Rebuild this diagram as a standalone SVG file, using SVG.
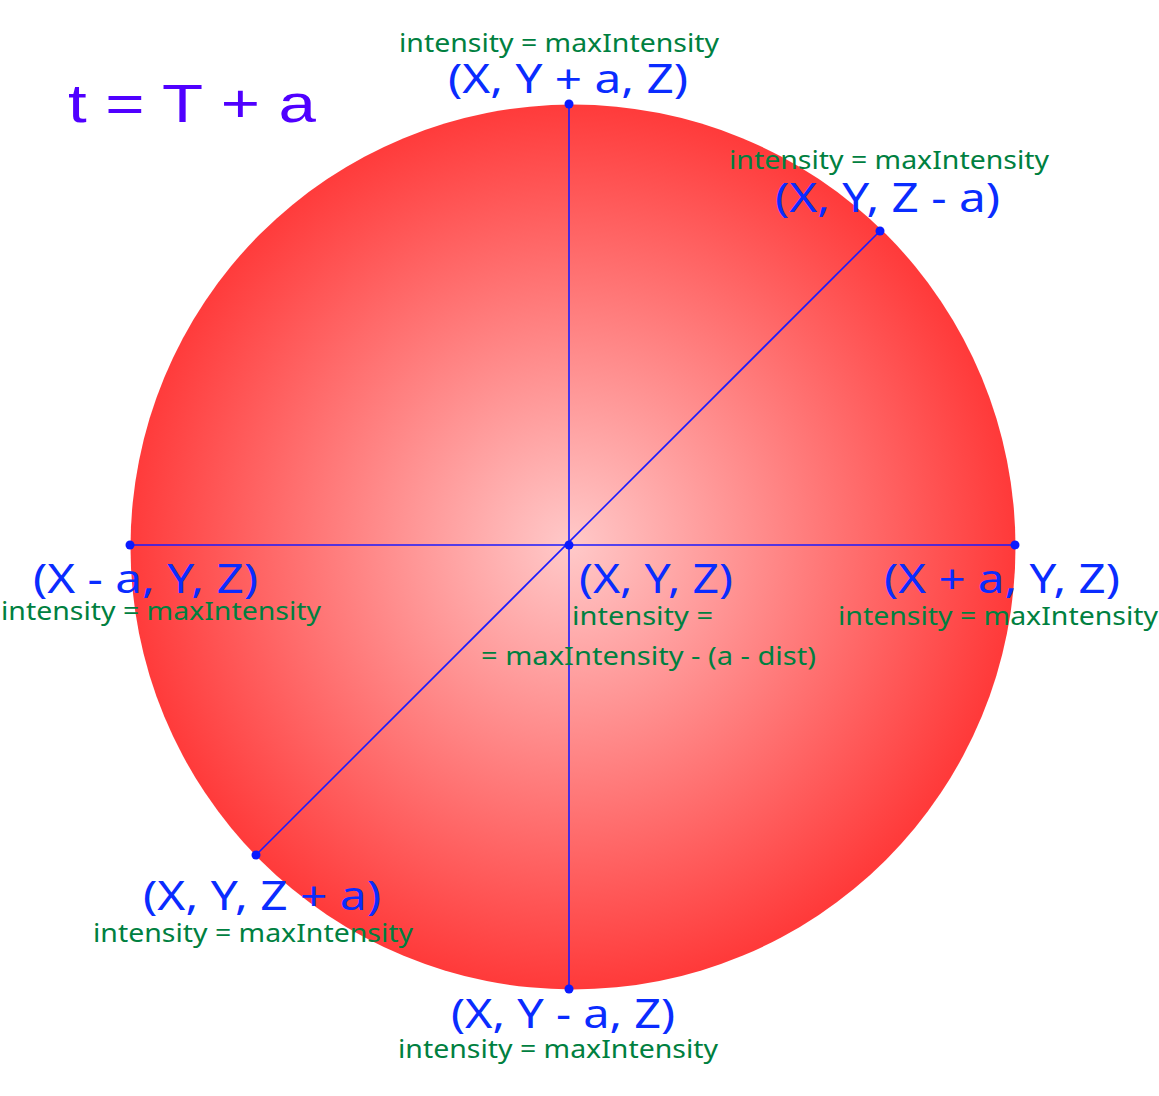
<svg xmlns="http://www.w3.org/2000/svg" width="1159" height="1096" viewBox="0 0 1159 1096">
<defs>
<radialGradient id="g" cx="570" cy="545" r="443" gradientUnits="userSpaceOnUse">
<stop offset="0" stop-color="#ffc9c9"/>
<stop offset="1" stop-color="#ff3a3a"/>
</radialGradient>
<style>
.b{font-family:"Noto Sans","Open Sans","Liberation Sans",sans-serif;font-size:40px;fill:#0a2cff}
.g{font-family:"Noto Sans","Open Sans","Liberation Sans",sans-serif;font-size:25px;fill:#008040}
.t{font-family:"Liberation Sans","Noto Sans",sans-serif;font-size:54px;fill:#5000ff}
.l{stroke:#1a1aff;stroke-width:1.6;fill:none}
.d{fill:#0a1aff}
</style>
</defs>
<rect width="1159" height="1096" fill="#ffffff"/>
<g id="sphere"><circle cx="573" cy="547" r="442.5" fill="url(#g)"/></g>
<g id="connectors">
<line class="l" x1="569" y1="104" x2="569" y2="989"/>
<line class="l" x1="130" y1="545" x2="1015" y2="545"/>
<line class="l" x1="880" y1="231" x2="256" y2="855"/>
</g>
<g id="title"><text class="t" x="68" y="122" textLength="248" lengthAdjust="spacingAndGlyphs">t = T + a</text></g>
<g id="node-top">
<circle class="d" cx="569" cy="104" r="4.5"/>
<text class="g" x="399" y="52" textLength="320" lengthAdjust="spacingAndGlyphs">intensity = maxIntensity</text>
<text class="b" x="448" y="93" textLength="240" lengthAdjust="spacingAndGlyphs">(X, Y + a, Z)</text>
</g>
<g id="node-upper-right">
<circle class="d" cx="880" cy="231" r="4.5"/>
<text class="g" x="729" y="169" textLength="320" lengthAdjust="spacingAndGlyphs">intensity = maxIntensity</text>
<text class="b" x="775" y="212" textLength="225" lengthAdjust="spacingAndGlyphs">(X, Y, Z - a)</text>
</g>
<g id="node-left">
<circle class="d" cx="130" cy="545" r="4.5"/>
<text class="b" x="33" y="593" textLength="225" lengthAdjust="spacingAndGlyphs">(X - a, Y, Z)</text>
<text class="g" x="1" y="620" textLength="320" lengthAdjust="spacingAndGlyphs">intensity = maxIntensity</text>
</g>
<g id="node-center">
<circle class="d" cx="569" cy="545" r="4.5"/>
<text class="b" x="579" y="593" textLength="154" lengthAdjust="spacingAndGlyphs">(X, Y, Z)</text>
<text class="g" x="572" y="625" textLength="141" lengthAdjust="spacingAndGlyphs">intensity =</text>
<text class="g" x="481" y="665" textLength="335" lengthAdjust="spacingAndGlyphs">= maxIntensity - (a - dist)</text>
</g>
<g id="node-right">
<circle class="d" cx="1015" cy="545" r="4.5"/>
<text class="b" x="884" y="593" textLength="236" lengthAdjust="spacingAndGlyphs">(X + a, Y, Z)</text>
<text class="g" x="838" y="625" textLength="320" lengthAdjust="spacingAndGlyphs">intensity = maxIntensity</text>
</g>
<g id="node-lower-left">
<circle class="d" cx="256" cy="855" r="4.5"/>
<text class="b" x="143" y="910" textLength="238" lengthAdjust="spacingAndGlyphs">(X, Y, Z + a)</text>
<text class="g" x="93" y="942" textLength="320" lengthAdjust="spacingAndGlyphs">intensity = maxIntensity</text>
</g>
<g id="node-bottom">
<circle class="d" cx="569" cy="989" r="4.5"/>
<text class="b" x="451" y="1028" textLength="224" lengthAdjust="spacingAndGlyphs">(X, Y - a, Z)</text>
<text class="g" x="398" y="1058" textLength="320" lengthAdjust="spacingAndGlyphs">intensity = maxIntensity</text>
</g>
</svg>
